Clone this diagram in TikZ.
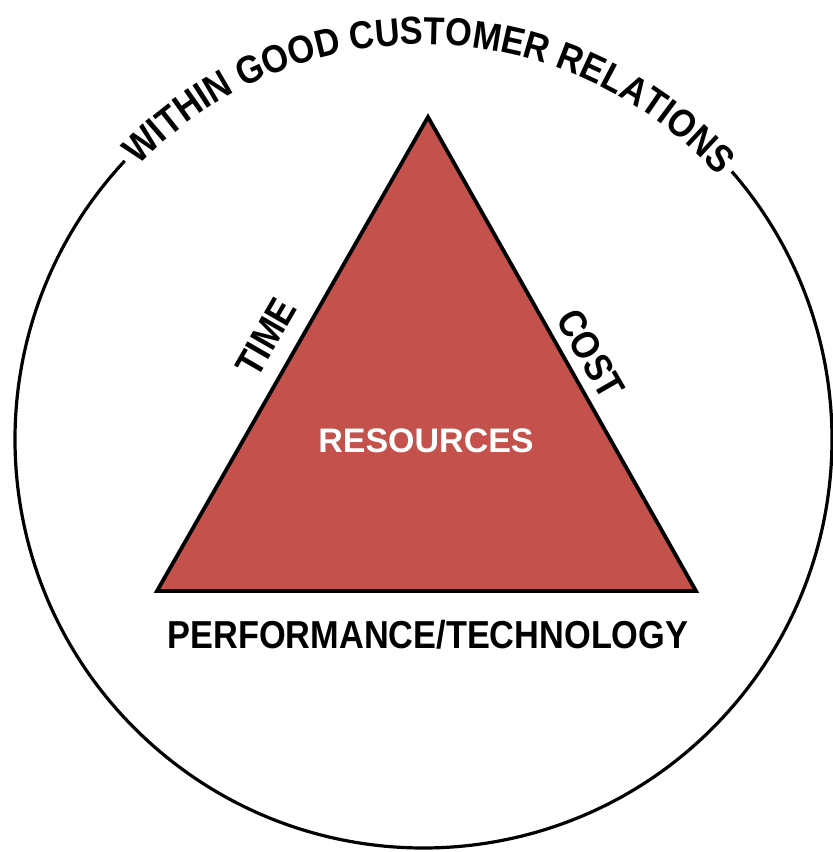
\documentclass[tikz,border=0pt]{standalone}
\usepackage{fontspec}
\usetikzlibrary{decorations.text}
\newfontfamily\labfont[FakeStretch=0.88]{Liberation Sans}
\newfontfamily\resfont{Liberation Sans}
\definecolor{trired}{RGB}{196,81,76}
\tikzset{
  lab/.style={font=\labfont\bfseries\fontsize{39}{40}\selectfont, inner sep=0pt},
  outline/.style={line width=3.8pt, draw=black}
}
\begin{document}
\begin{tikzpicture}[x=1pt,y=1pt]
\useasboundingbox (0,0) rectangle (833,852);
\coordinate (c) at (423.5,412.5);
% circle with gap
\draw[line width=3.2pt] (c) ++(137:408.5) arc[start angle=137, end angle=401, radius=408.5];
% arc text
\path[decorate, decoration={text along path, text align=center,
  text={|\labfont\bfseries\fontsize{39}{40}\selectfont|WITHIN GOOD CUSTOMER RELATIONS}}]
  (c) ++(140:395) arc[start angle=140, end angle=38, radius=395];
% triangle
\coordinate (apex) at (428,735);
\coordinate (bl) at (157,261);
\coordinate (br) at (696,261);
\draw[outline, fill=trired, line join=miter] (apex) -- (br) -- (bl) -- cycle;
\node[lab, rotate=60] (time) at (266,515) {TIME};
\node[lab, rotate=-60] (cost) at (591,498) {COST};
\node[font=\resfont\bfseries\fontsize{34}{35}\selectfont, text=white, inner sep=0pt] (res) at (426,411) {RESOURCES};
\node[lab] (perf) at (428,217) {PERFORMANCE/TECHNOLOGY};
\end{tikzpicture}
\end{document}
